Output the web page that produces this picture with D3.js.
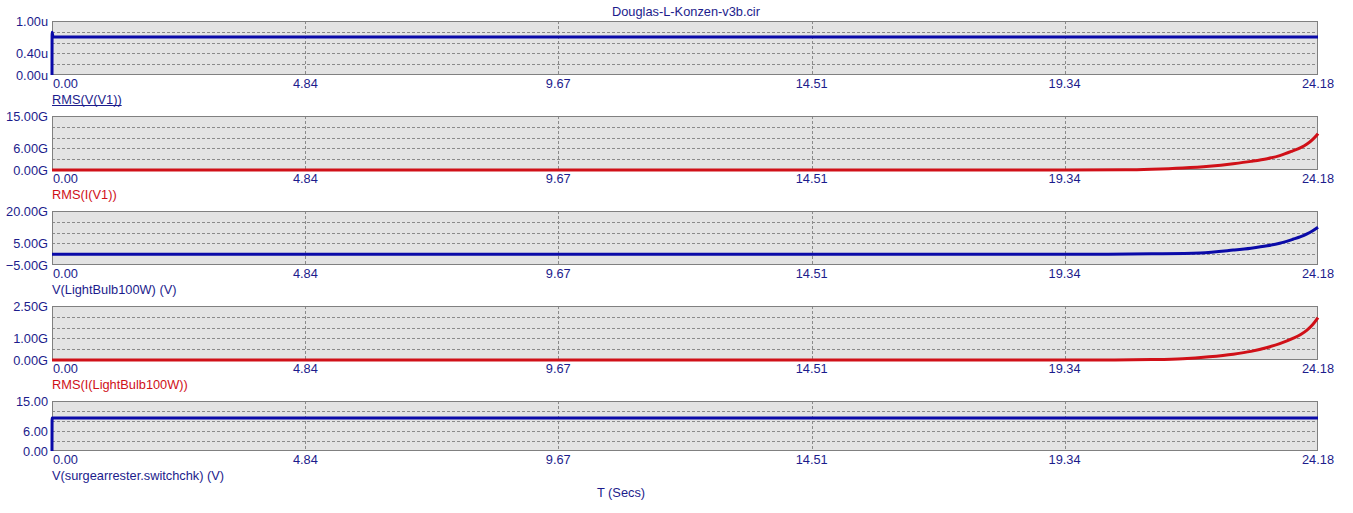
<!DOCTYPE html>
<html>
<head>
<meta charset="utf-8">
<script src="https://cdn.jsdelivr.net/npm/d3@7"></script>
<style>
  body { margin: 0; background: #fff; }
  text { font-family: "Liberation Sans", Arial, sans-serif; font-size: 12.8px; }
</style>
</head>
<body>
<div id="chart"></div>
<script>
// time axis
var tMax = 24.18
var xTicks = [0.00, 4.84, 9.67, 14.51, 19.34, 24.18]

// panel 1: RMS(V(V1))
var p1Time = [0, 0.002, 0.02, 24.18]
var p1Vals = [0, 0.79, 0.704, 0.704]
// panel 2: RMS(I(V1)) in G
var p2Time = [0, 19.34, 20.5, 21.0, 21.6, 22.1, 22.56, 22.9, 23.21, 23.45, 23.68, 23.85, 23.97, 24.08, 24.18]
var p2Vals = [0, 0, 0.05, 0.2, 0.55, 1.05, 1.75, 2.4, 3.15, 4.0, 5.2, 6.2, 7.2, 8.5, 10.1]
// panel 3: V(LightBulb100W) in G
var p3Time = [0, 20.0, 21.0, 21.93, 22.56, 22.9, 23.21, 23.45, 23.7, 23.85, 23.97, 24.08, 24.18]
var p3Vals = [0, 0, 0.2, 0.6, 1.9, 2.8, 3.9, 5.1, 6.9, 8.1, 9.4, 10.9, 12.5]
// panel 4: RMS(I(LightBulb100W)) in G
var p4Time = [0, 19.34, 20.3, 21.0, 21.6, 22.1, 22.56, 22.9, 23.21, 23.45, 23.7, 23.85, 23.97, 24.08, 24.18]
var p4Vals = [0, 0, 0.005, 0.02, 0.06, 0.15, 0.27, 0.4, 0.58, 0.76, 1.0, 1.18, 1.38, 1.64, 1.96]
// panel 5: V(surgearrester.switchchk) (V)
var p5Time = [0, 0.002, 24.18]
var p5Vals = [0, 9.9, 9.9]

var panels = [
  { time: p1Time, vals: p1Vals, min: 0, max: 1, grid: [0.2, 0.4, 0.6, 0.8], labels: [0, 0.4, 1], unit: 'u', color: '#0a0aa8', label: 'RMS(V(V1))', labelColor: '#1c1c8c', underline: true, top: 21, bottom: 75 },
  { time: p2Time, vals: p2Vals, min: 0, max: 15, grid: [3, 6, 9, 12], labels: [0, 6, 15], unit: 'G', color: '#d01018', label: 'RMS(I(V1))', labelColor: '#d01018', top: 116, bottom: 170 },
  { time: p3Time, vals: p3Vals, min: -5, max: 20, grid: [0, 5, 10, 15], labels: [-5, 5, 20], unit: 'G', color: '#0a0aa8', label: 'V(LightBulb100W) (V)', labelColor: '#1c1c8c', top: 211, bottom: 265 },
  { time: p4Time, vals: p4Vals, min: 0, max: 2.5, grid: [0.5, 1, 1.5, 2], labels: [0, 1, 2.5], unit: 'G', color: '#d01018', label: 'RMS(I(LightBulb100W))', labelColor: '#d01018', top: 306, bottom: 360 },
  { time: p5Time, vals: p5Vals, min: 0, max: 15, grid: [3, 6, 9, 12], labels: [0, 6, 15], unit: '', color: '#0a0aa8', label: 'V(surgearrester.switchchk) (V)', labelColor: '#1c1c8c', top: 401, bottom: 451 }
]

var w = 1353
var h = 513
var left = 52
var right = 1318
var textColor = '#1c1c8c'

var svg = d3.select('#chart').append('svg')
  .attr('width', w)
  .attr('height', h)

var x = d3.scaleLinear().domain([0, tMax]).range([left, right])

svg.append('text')
  .attr('x', 686).attr('y', 16)
  .attr('text-anchor', 'middle')
  .attr('fill', textColor)
  .text('Douglas-L-Konzen-v3b.cir')

panels.forEach(function (p) {
  var y = d3.scaleLinear().domain([p.min, p.max]).range([p.bottom, p.top])
  var g = svg.append('g')

  g.append('rect')
    .attr('x', left).attr('y', p.top)
    .attr('width', right - left).attr('height', p.bottom - p.top)
    .attr('fill', '#e3e3e3')

  // horizontal dashed grid
  p.grid.forEach(function (v) {
    g.append('line')
      .attr('x1', left).attr('x2', right)
      .attr('y1', Math.round(y(v)) + 0.5).attr('y2', Math.round(y(v)) + 0.5)
      .attr('stroke', '#8a8a8a').attr('stroke-dasharray', '3,2')
  })
  // vertical dashed grid
  xTicks.slice(1, -1).forEach(function (t) {
    g.append('line')
      .attr('x1', Math.round(x(t)) + 0.5).attr('x2', Math.round(x(t)) + 0.5)
      .attr('y1', p.top).attr('y2', p.bottom)
      .attr('stroke', '#8a8a8a').attr('stroke-dasharray', '3,2')
  })

  g.append('rect')
    .attr('x', left + 0.5).attr('y', p.top + 0.5)
    .attr('width', right - left - 1).attr('height', p.bottom - p.top - 1)
    .attr('fill', 'none').attr('stroke', '#808080')

  var pts = p.time.map(function (t, i) { return [t, p.vals[i]] })
  var line = d3.line()
    .x(function (d) { return x(d[0]) })
    .y(function (d) { return y(d[1]) })
    .curve(d3.curveMonotoneX)
  g.append('path')
    .attr('d', line(pts))
    .attr('fill', 'none')
    .attr('stroke', p.color)
    .attr('stroke-width', 3)
    .attr('stroke-linejoin', 'round')

  // y labels
  p.labels.forEach(function (v) {
    g.append('text')
      .attr('x', 48).attr('y', y(v) + 4.5)
      .attr('text-anchor', 'end')
      .attr('fill', textColor)
      .text(d3.format('.2f')(v) + p.unit)
  })

  // x labels
  xTicks.forEach(function (t, i) {
    g.append('text')
      .attr('x', i === 0 ? x(t) + 1 : x(t))
      .attr('y', p.bottom + 13)
      .attr('text-anchor', i === 0 ? 'start' : 'middle')
      .attr('fill', textColor)
      .text(d3.format('.2f')(t))
  })

  var lbl = g.append('text')
    .attr('x', left).attr('y', p.bottom + 28.5)
    .attr('fill', p.labelColor)
    .text(p.label)
  if (p.underline) {
    var len = lbl.node().getComputedTextLength()
    g.append('line')
      .attr('x1', left).attr('x2', left + len)
      .attr('y1', p.bottom + 30.5).attr('y2', p.bottom + 30.5)
      .attr('stroke', p.labelColor)
  }
})

svg.append('text')
  .attr('x', 621).attr('y', 497)
  .attr('text-anchor', 'middle')
  .attr('fill', textColor)
  .text('T (Secs)')
</script>
</body>
</html>
